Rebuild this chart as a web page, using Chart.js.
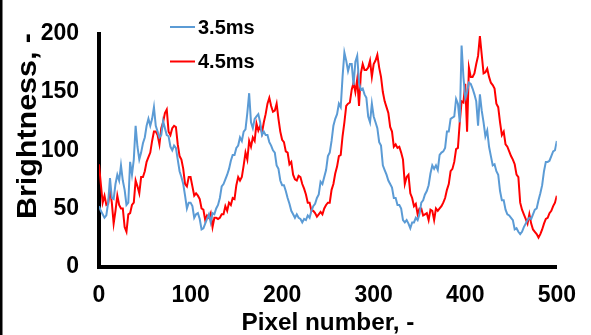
<!DOCTYPE html>
<html>
<head>
<meta charset="utf-8">
<script src="https://cdn.jsdelivr.net/npm/chart.js@4.4.0/dist/chart.umd.min.js"></script>
<style>
  html, body { margin: 0; padding: 0; background: #ffffff; }
  #wrap { width: 591px; height: 335px; position: relative; }
</style>
</head>
<body>
<div id="wrap"><canvas id="c" width="591" height="335"></canvas></div>
<script>
// Pixel number (x values), every 2 pixels
const pixelNumbers = [
  0,2,4,6,8,10,12,14,16,18,20,22,24,26,28,30,32,34,36,38,40,42,44,46,48,
  50,52,54,56,58,60,62,64,66,68,70,72,74,76,78,80,82,84,86,88,90,92,94,96,98,
  100,102,104,106,108,110,112,114,116,118,120,122,124,126,128,130,132,134,136,138,140,142,144,146,148,
  150,152,154,156,158,160,162,164,166,168,170,172,174,176,178,180,182,184,186,188,190,192,194,196,198,
  200,202,204,206,208,210,212,214,216,218,220,222,224,226,228,230,232,234,236,238,240,242,244,246,248,
  250,252,254,256,258,260,262,264,266,268,270,272,274,276,278,280,282,284,286,288,290,292,294,296,298,
  300,302,304,306,308,310,312,314,316,318,320,322,324,326,328,330,332,334,336,338,340,342,344,346,348,
  350,352,354,356,358,360,362,364,366,368,370,372,374,376,378,380,382,384,386,388,390,392,394,396,398,
  400,402,404,406,408,410,412,414,416,418,420,422,424,426,428,430,432,434,436,438,440,442,444,446,448,
  450,452,454,456,458,460,462,464,466,468,470,472,474,476,478,480,482,484,486,488,490,492,494,496,498,
  500
];

// Brightness, 3.5 ms
const brightness35 = [
  52,48,45,42,44,55,76,59,58,71,79,74,87,74,66,53,55,90,79,92,121,103,92,98,106,
  111,121,127,121,127,137,121,116,111,113,125,119,113,112,103,100,104,102,92,82,77,71,61,50,55,
  55,52,42,45,46,41,32,33,37,41,45,38,46,45,50,53,59,69,71,75,79,84,91,96,96,
  102,104,111,108,116,118,132,149,124,119,127,129,131,124,113,116,113,113,107,104,100,98,87,84,74,
  70,70,65,59,54,48,45,42,45,42,41,38,41,40,44,42,48,52,54,59,62,73,71,77,83,
  95,98,108,121,127,131,140,137,163,184,177,168,174,174,156,176,181,158,152,153,148,145,129,124,140,
  129,124,119,107,104,87,83,79,74,71,68,59,59,53,53,50,40,38,40,37,33,38,38,42,40,
  45,55,57,62,65,70,80,87,84,87,83,96,98,99,102,116,116,127,128,129,144,140,124,190,163,
  145,150,158,157,153,148,142,121,148,134,124,112,117,103,95,87,88,82,79,65,57,57,49,45,44,
  42,40,32,33,30,28,30,34,37,40,42,41,45,49,50,57,63,70,82,90,90,91,95,99,100,
  108
];

// Brightness, 4.5 ms
const brightness45 = [
  88,71,55,61,53,54,66,55,37,48,61,53,50,50,34,30,45,46,53,55,74,69,63,77,77,
  82,90,94,98,108,116,116,113,105,119,124,132,135,116,113,119,121,120,105,95,92,84,71,69,77,
  77,69,61,63,61,58,50,49,40,44,42,46,34,42,42,41,42,45,45,52,48,55,53,59,58,
  70,77,74,77,87,98,92,108,103,111,108,123,117,121,115,124,131,140,145,138,133,134,140,127,116,
  109,107,99,98,88,90,79,75,74,78,77,71,67,62,55,55,48,48,46,43,45,47,45,50,53,
  55,55,66,71,80,86,95,96,112,124,138,140,141,152,158,150,161,138,166,174,169,169,171,177,163,
  174,177,182,171,163,150,142,137,132,120,116,103,105,102,103,98,92,71,77,79,63,59,52,54,45,
  50,50,44,45,46,40,49,48,40,50,48,50,52,55,59,66,71,82,84,90,101,102,124,142,141,
  157,116,171,163,163,166,174,181,198,182,166,167,170,163,158,156,153,140,137,124,113,116,105,103,99,
  95,92,88,79,77,55,49,45,41,37,45,37,32,30,28,25,28,32,37,41,42,46,48,52,55,
  61
];

const xTicks = [0, 100, 200, 300, 400, 500];
const yTicks = [0, 50, 100, 150, 200];
const seriesLabels = ['3.5ms', '4.5ms'];
const seriesColors = ['#5B9BD5', '#FF0000'];
const xTitle = 'Pixel number, -';
const yTitle = 'Brightness, -';

const FONT = '"Liberation Sans", Arial, Helvetica, sans-serif';

function drawScaledText(ctx, text, x, y, size, targetWidth) {
  ctx.font = 'bold ' + size + 'px ' + FONT;
  const w = ctx.measureText(text).width;
  const s = targetWidth / w;
  ctx.save();
  ctx.translate(x, y);
  ctx.scale(s, 1);
  ctx.fillText(text, 0, 0);
  ctx.restore();
}

const decorPlugin = {
  id: 'decor',
  afterDraw(chart) {
    const ctx = chart.ctx;
    ctx.save();
    // left frame line
    ctx.fillStyle = '#000000';
    ctx.fillRect(0, 0, 2.5, chart.height);
    // axis titles
    ctx.textAlign = 'center';
    ctx.textBaseline = 'alphabetic';
    const area = chart.chartArea;
    drawScaledText(ctx, xTitle, (area.left + area.right) / 2, 330, 23, 173);
    ctx.save();
    ctx.translate(36, 126);
    ctx.rotate(-Math.PI / 2);
    drawScaledText(ctx, yTitle, 0, 0, 27, 186);
    ctx.restore();
    // legend
    const rows = [27, 61.5];
    chart.data.datasets.forEach((ds, i) => {
      ctx.strokeStyle = ds.borderColor;
      ctx.lineWidth = 2;
      ctx.beginPath();
      ctx.moveTo(170, rows[i]);
      ctx.lineTo(195, rows[i]);
      ctx.stroke();
      ctx.fillStyle = '#000000';
      ctx.textAlign = 'left';
      ctx.textBaseline = 'middle';
      ctx.font = 'bold 20px ' + FONT;
      ctx.fillText(ds.label, 198, rows[i] + 1);
    });
    ctx.restore();
  }
};

function pts(ys) { return pixelNumbers.map((x, i) => ({ x: x, y: ys[i] })); }

new Chart(document.getElementById('c'), {
  type: 'line',
  data: {
    datasets: [
      { label: seriesLabels[0], data: pts(brightness35), borderColor: seriesColors[0], borderWidth: 2, pointRadius: 0, tension: 0, fill: false },
      { label: seriesLabels[1], data: pts(brightness45), borderColor: seriesColors[1], borderWidth: 2, pointRadius: 0, tension: 0, fill: false }
    ]
  },
  options: {
    responsive: false,
    animation: false,
    events: [],
    layout: { padding: { left: 0, right: 28, top: 15, bottom: 0 } },
    plugins: { legend: { display: false }, tooltip: { enabled: false }, title: { display: false } },
    scales: {
      x: {
        type: 'linear', min: 0, max: 500,
        afterBuildTicks(s) { s.ticks = xTicks.map(v => ({ value: v })); },
        afterFit(s) { s.height = 335 - 266.7; },
        grid: { display: false, drawTicks: false },
        border: { display: true, color: '#000000', width: 4 },
        ticks: { color: '#000000', padding: 15, maxRotation: 0, autoSkip: false, font: { family: FONT, size: 23, weight: 'bold' } }
      },
      y: {
        min: 0, max: 200,
        afterBuildTicks(s) { s.ticks = yTicks.map(v => ({ value: v })); },
        afterFit(s) { s.width = 99; },
        grid: { display: false, drawTicks: false },
        border: { display: true, color: '#000000', width: 4 },
        ticks: { color: '#000000', padding: 20, font: { family: FONT, size: 23, weight: 'bold' } }
      }
    }
  },
  plugins: [decorPlugin]
});
</script>
</body>
</html>
